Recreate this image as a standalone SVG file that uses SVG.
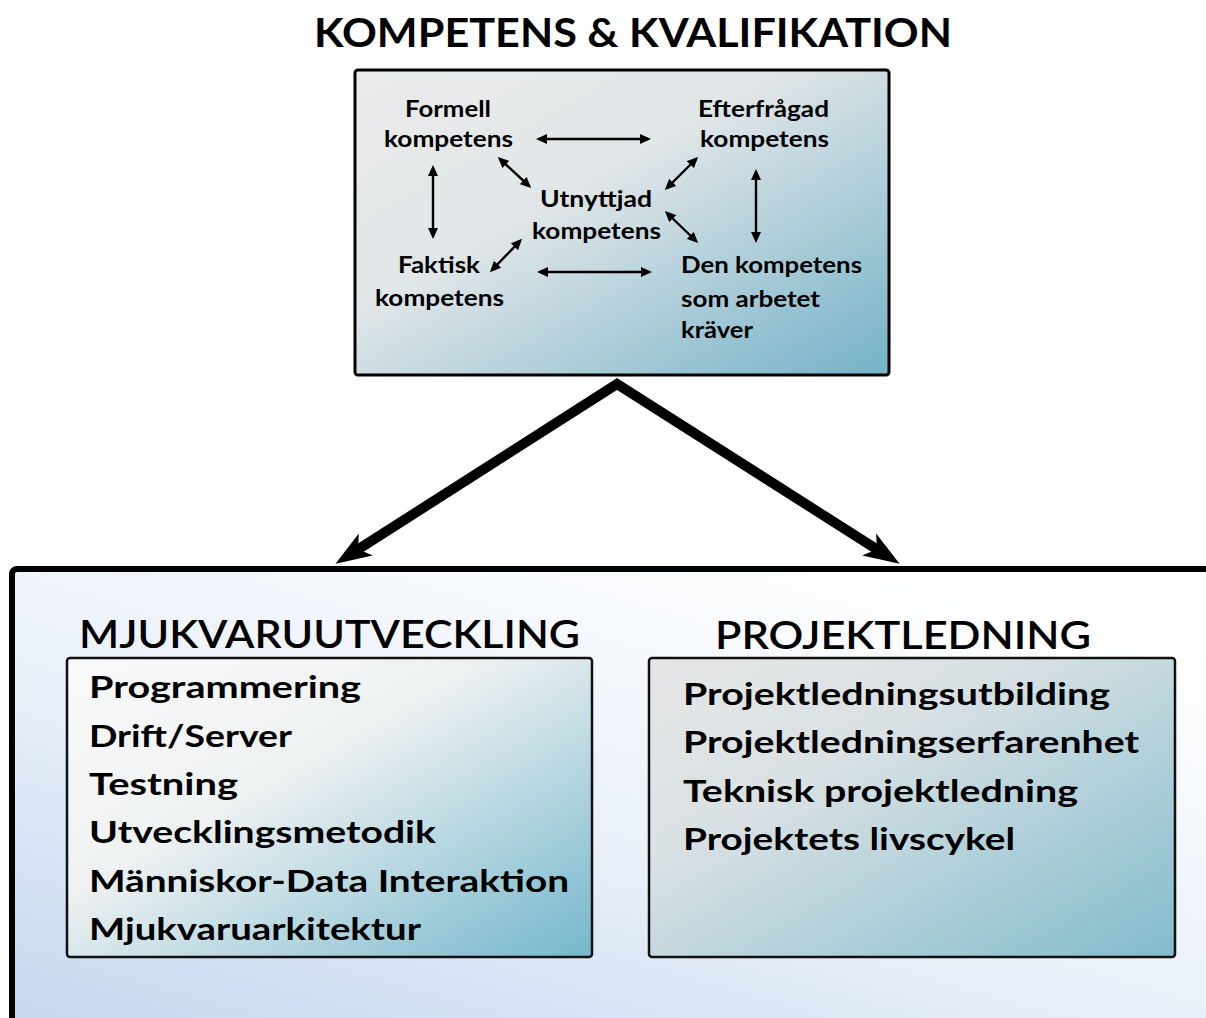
<svg xmlns="http://www.w3.org/2000/svg" width="1206" height="1018" viewBox="0 0 1206 1018">
<style>
text{font-family:Lato,"Open Sans","Liberation Sans",sans-serif;font-weight:700;fill:#000}
.t{font-size:23px}
.h{font-size:38px;font-weight:600}
.title{font-size:40px}
.it{font-size:31px}
.small{fill:none;stroke:#000;stroke-width:2.4;marker-start:url(#sa);marker-end:url(#sa)}
.big{fill:none;stroke:#000;stroke-width:10;stroke-linejoin:miter;stroke-miterlimit:10;marker-start:url(#ba);marker-end:url(#ba)}
</style>
<defs>
<linearGradient id="gTop" x1="0" y1="0" x2="1" y2="1">
<stop offset="0" stop-color="#ebebeb"/>
<stop offset="0.4" stop-color="#e1e6e8"/>
<stop offset="1" stop-color="#74b2c7"/>
</linearGradient>
<linearGradient id="gL" x1="0" y1="0" x2="1" y2="1">
<stop offset="0" stop-color="#fafafa"/>
<stop offset="0.4" stop-color="#eef1f2"/>
<stop offset="1" stop-color="#74b7cb"/>
</linearGradient>
<linearGradient id="gR" x1="0" y1="0" x2="1" y2="1">
<stop offset="0" stop-color="#e6e6e6"/>
<stop offset="0.35" stop-color="#d9e1e4"/>
<stop offset="1" stop-color="#82bccc"/>
</linearGradient>
<linearGradient id="gBig" x1="0" y1="1" x2="0.75" y2="0">
<stop offset="0" stop-color="#c3d6ef"/>
<stop offset="0.5" stop-color="#e9f0f9"/>
<stop offset="1" stop-color="#ffffff"/>
</linearGradient>
<marker id="sa" viewBox="0 -5 11 10" refX="8" refY="0" markerWidth="11" markerHeight="10" markerUnits="userSpaceOnUse" orient="auto-start-reverse">
<path d="M0,-5 L11,0 L0,5 z" fill="#000"/>
</marker>
<marker id="ba" viewBox="0 -15 38 30" refX="14" refY="0" markerWidth="38" markerHeight="30" markerUnits="userSpaceOnUse" orient="auto-start-reverse">
<path d="M0,-13 L36,0 L0,13 L9,0 z" fill="#000"/>
</marker>
</defs>

<g id="bottom-container">
<rect x="12" y="569" width="1210" height="470" rx="5" fill="url(#gBig)" stroke="#000" stroke-width="6"/>
</g>

<g id="title">
<text class="title" x="314" y="47" textLength="638" lengthAdjust="spacingAndGlyphs">KOMPETENS &amp; KVALIFIKATION</text>
</g>

<g id="kompetens-box">
<rect x="355" y="70" width="534" height="305" rx="3" fill="url(#gTop)" stroke="#000" stroke-width="3"/>
</g>

<g id="formell">
<text class="t" x="405" y="117" textLength="86" lengthAdjust="spacingAndGlyphs">Formell</text>
<text class="t" x="384" y="147" textLength="129" lengthAdjust="spacingAndGlyphs">kompetens</text>
</g>
<g id="efterfragad">
<text class="t" x="698" y="117" textLength="131" lengthAdjust="spacingAndGlyphs">Efterfrågad</text>
<text class="t" x="700" y="147" textLength="129" lengthAdjust="spacingAndGlyphs">kompetens</text>
</g>
<g id="utnyttjad">
<text class="t" x="540" y="207" textLength="112" lengthAdjust="spacingAndGlyphs">Utnyttjad</text>
<text class="t" x="532" y="239" textLength="129" lengthAdjust="spacingAndGlyphs">kompetens</text>
</g>
<g id="faktisk">
<text class="t" x="398" y="273" textLength="82" lengthAdjust="spacingAndGlyphs">Faktisk</text>
<text class="t" x="375" y="306" textLength="129" lengthAdjust="spacingAndGlyphs">kompetens</text>
</g>
<g id="den-kompetens">
<text class="t" x="681" y="273" textLength="181" lengthAdjust="spacingAndGlyphs">Den kompetens</text>
<text class="t" x="681" y="307" textLength="139" lengthAdjust="spacingAndGlyphs">som arbetet</text>
<text class="t" x="681" y="338" textLength="72" lengthAdjust="spacingAndGlyphs">kräver</text>
</g>

<g id="connectors">
<path class="small" d="M539,139 L648,139"/>
<path class="small" d="M540,272 L649,272"/>
<path class="small" d="M433,168 L433,236"/>
<path class="small" d="M756,172 L756,240"/>
<path class="small" d="M500,159 L529,186"/>
<path class="small" d="M696,159 L667,188"/>
<path class="small" d="M667,213 L696,241"/>
<path class="small" d="M520,241 L492,270"/>
<path class="big" d="M354,552 L617,384 L881,552"/>
</g>

<g id="mjukvaruutveckling">
<text class="h" x="79" y="648" textLength="501" lengthAdjust="spacingAndGlyphs">MJUKVARUUTVECKLING</text>
<rect x="67" y="658" width="525" height="299" rx="3" fill="url(#gL)" stroke="#111" stroke-width="2.5"/>
<text class="it" x="89" y="698" textLength="272" lengthAdjust="spacingAndGlyphs">Programmering</text>
<text class="it" x="89" y="747" textLength="203" lengthAdjust="spacingAndGlyphs">Drift/Server</text>
<text class="it" x="89" y="795" textLength="149" lengthAdjust="spacingAndGlyphs">Testning</text>
<text class="it" x="89" y="843" textLength="347" lengthAdjust="spacingAndGlyphs">Utvecklingsmetodik</text>
<text class="it" x="89" y="892" textLength="480" lengthAdjust="spacingAndGlyphs">Människor-Data Interaktion</text>
<text class="it" x="89" y="940" textLength="332" lengthAdjust="spacingAndGlyphs">Mjukvaruarkitektur</text>
</g>

<g id="projektledning">
<text class="h" x="715" y="649" textLength="376" lengthAdjust="spacingAndGlyphs">PROJEKTLEDNING</text>
<rect x="649" y="658" width="526" height="299" rx="3" fill="url(#gR)" stroke="#111" stroke-width="2.5"/>
<text class="it" x="683" y="705" textLength="427" lengthAdjust="spacingAndGlyphs">Projektledningsutbilding</text>
<text class="it" x="683" y="753" textLength="456" lengthAdjust="spacingAndGlyphs">Projektledningserfarenhet</text>
<text class="it" x="683" y="802" textLength="395" lengthAdjust="spacingAndGlyphs">Teknisk projektledning</text>
<text class="it" x="683" y="850" textLength="332" lengthAdjust="spacingAndGlyphs">Projektets livscykel</text>
</g>
</svg>
